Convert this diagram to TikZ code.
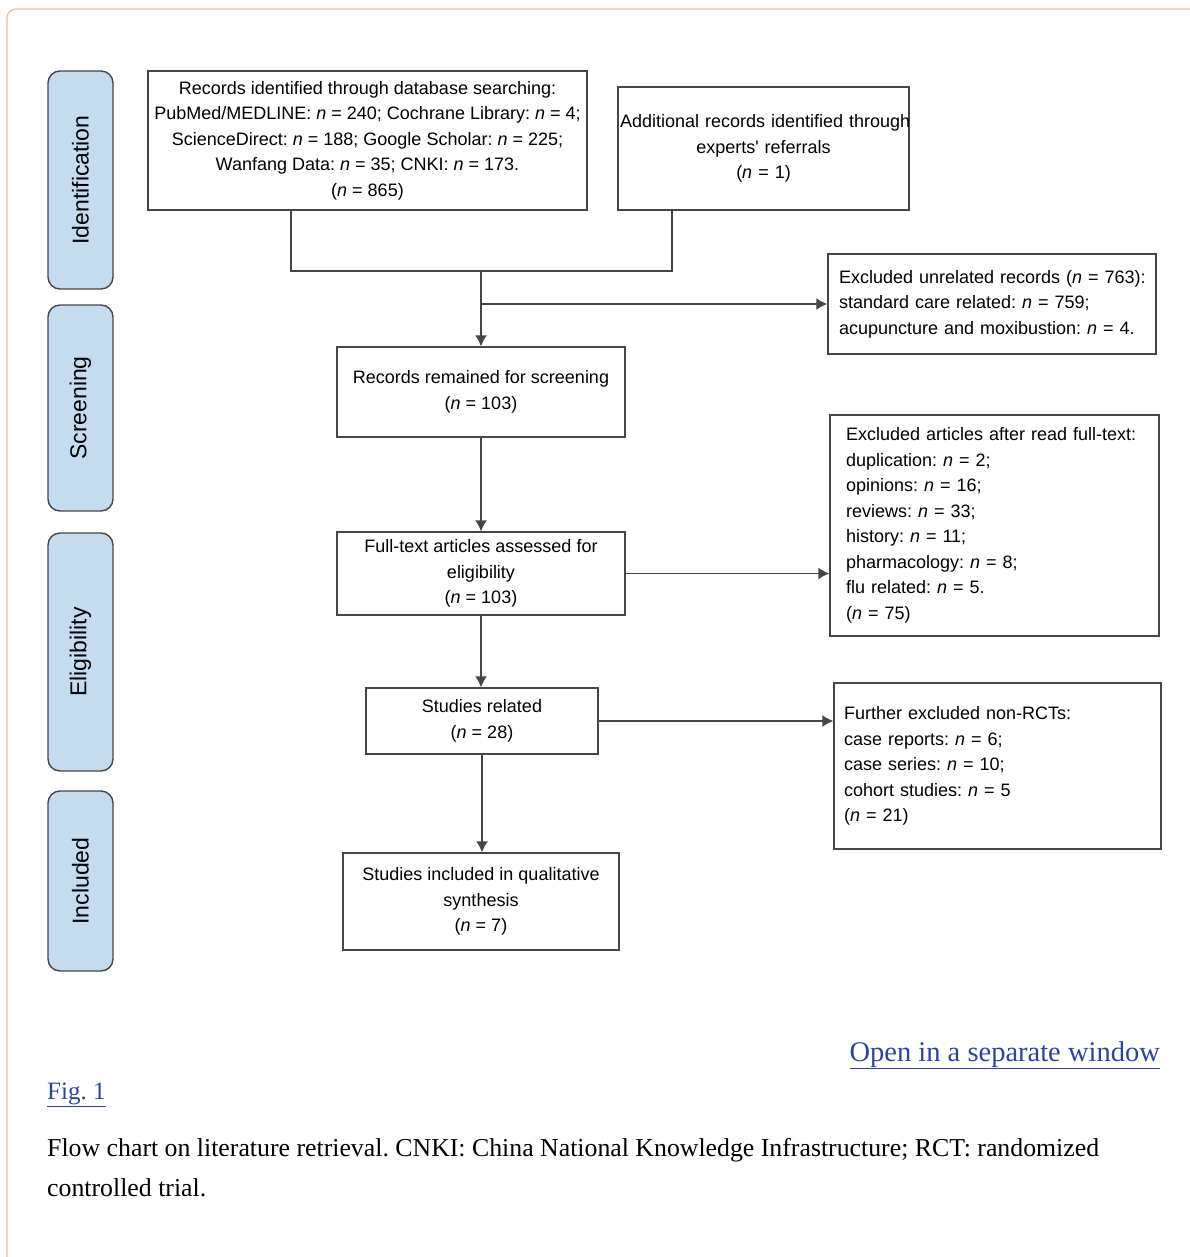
\documentclass[tikz,border=0pt]{standalone}
\usepackage{fontspec}
\setmainfont{Liberation Serif}
\newfontfamily\arialfont{Liberation Sans}
\usepackage{tikz}
\usetikzlibrary{arrows.meta}
\frenchspacing
\definecolor{linegray}{RGB}{70,70,70}
\definecolor{phaseblue}{RGB}{197,220,240}
\definecolor{framepink}{RGB}{240,186,160}
\definecolor{linkblue}{RGB}{44,70,150}
\newcommand\nn[1]{\textit{n}~=~#1}
\tikzstyle{link} = [draw,linegray,line width=1.4pt]
\tikzstyle{arrow} = [link,-{Latex[length=11pt,width=12pt]}]
\tikzstyle{box} = [draw=linegray,line width=1.4pt,font=\arialfont\fontsize{18}{25.5}\selectfont,inner sep=0pt,align=center]
\tikzstyle{listbox} = [box,align=left]
\tikzstyle{phase} = [draw=linegray,line width=1.4pt,fill=phaseblue,rounded corners=12pt,rotate=90,minimum height=65pt,font=\arialfont\fontsize{23}{26}\selectfont]

\begin{document}
\begin{tikzpicture}[x=1pt,y=-1pt]
\useasboundingbox (0,0) rectangle (1190,1257);
\draw[framepink,line width=1.2pt,rounded corners=9pt] (7,9) rectangle (1240,1300);

% phases
\node[phase,minimum width=218pt] (ident) at (80.5,180) {Identification};
\node[phase,minimum width=206pt] (screening) at (80.5,408) {Screening};
\node[phase,minimum width=238pt] (elig) at (80.5,652) {Eligibility};
\node[phase,minimum width=180pt] (incl) at (80.5,881) {Included};

% boxes
\node[box,minimum width=439pt,minimum height=139pt] (db) at (367.5,140.5)
  {Records identified through database searching:\\
   PubMed/MEDLINE: \nn{240}; Cochrane Library: \nn{4};\\
   ScienceDirect: \nn{188}; Google Scholar: \nn{225};\\
   Wanfang Data: \nn{35}; CNKI: \nn{173}.\\
   (\nn{865})};
\node[box,minimum width=291pt,minimum height=123pt,text width=287pt] (expert) at (763.5,148.5)
  {\mbox{Additional records identified through}\\ experts' referrals\\ (\nn{1})};
\node[listbox,minimum width=328pt,minimum height=100pt,text width=306pt] (unrel) at (992,304)
  {\mbox{Excluded unrelated records (\nn{763}):}\\
   \mbox{standard care related: \nn{759};}\\
   \mbox{acupuncture and moxibustion: \nn{4}.}\\[5pt]};
\node[box,minimum width=288pt,minimum height=90pt] (remain) at (481,392)
  {Records remained for screening\\ (\nn{103})};
\node[box,minimum width=288pt,minimum height=83pt] (fulltext) at (481,573.5)
  {Full-text articles assessed for\\ eligibility\\ (\nn{103})};
\node[listbox,minimum width=329pt,minimum height=221pt,text width=297pt] (exfull) at (994.5,525.5)
  {\mbox{Excluded articles after read full-text:}\\
   duplication: \nn{2};\\
   opinions: \nn{16};\\
   reviews: \nn{33};\\
   history: \nn{11};\\
   pharmacology: \nn{8};\\
   flu related: \nn{5}.\\
   (\nn{75})};
\node[box,minimum width=232pt,minimum height=66pt] (related) at (482,721)
  {Studies related\\ (\nn{28})};
\node[listbox,minimum width=327pt,minimum height=166pt,text width=307pt] (nonrct) at (997.5,766)
  {Further excluded non-RCTs:\\
   case reports: \nn{6};\\
   case series: \nn{10};\\
   cohort studies: \nn{5}\\
   (\nn{21})\\[12pt]};
\node[box,minimum width=276pt,minimum height=97pt] (qual) at (481,901.5)
  {Studies included in qualitative\\ synthesis\\ (\nn{7})};

% connectors
\coordinate (j1) at (291,271);
\coordinate (j2) at (672,271);
\coordinate (j3) at (481,271);
\coordinate (j4) at (481,304);
\draw[link] (db.south -| j1) -- (j1) -- (j2) -- (expert.south -| j2);
\draw[arrow] (j3) -- (remain.north);
\draw[arrow] (j4) -- (unrel.west);
\draw[arrow] (remain) -- (fulltext);
\draw[arrow] (fulltext.east) -- (fulltext.east -| exfull.west);
\draw[arrow] (fulltext.south) -- (fulltext.south |- related.north);
\draw[arrow] (related.east) -- (related.east -| nonrct.west);
\draw[arrow] (related.south) -- (related.south |- qual.north);

% caption
\node[anchor=base east,text=linkblue,font=\fontsize{28.5}{30}\selectfont,inner sep=0pt] (open) at (1160,1061)
  {\underline{Open in a separate window}};
\node[anchor=base west,text=linkblue,font=\fontsize{25}{28}\selectfont,inner sep=0pt] (fig) at (47,1099)
  {\underline{Fig. 1}};
\node[anchor=base west,align=left,font=\fontsize{25.8}{40}\selectfont,inner sep=0pt] (caption) at (47,1196)
  {Flow chart on literature retrieval. CNKI: China National Knowledge Infrastructure; RCT: randomized\\ controlled trial.};
\end{tikzpicture}
\end{document}
